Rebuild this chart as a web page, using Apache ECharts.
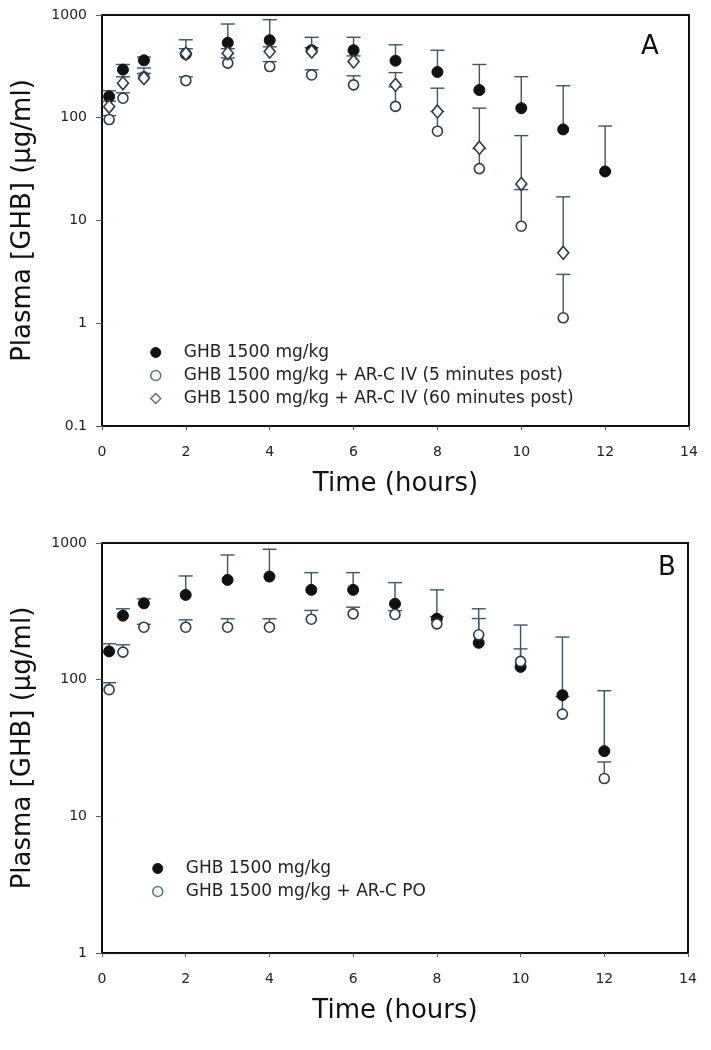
<!DOCTYPE html>
<html>
<head>
<meta charset="utf-8">
<script src="https://cdn.jsdelivr.net/npm/echarts@6/dist/echarts.min.js"></script>
<style>
html,body{margin:0;padding:0;background:#fff;}
#chart{width:711px;height:1050px;}
</style>
</head>
<body>
<div id="chart"></div>
<script>
// ---------- data ----------
const timesCtrl = [0.17, 0.5, 1, 2, 3, 4, 5, 6, 7, 8, 9, 10, 11, 12];
const ghb       = [161, 294, 362, 417, 537, 568, 454, 454, 359, 279, 186, 124, 77, 30];
const ghbUpper  = [183, 330, 390, 574, 817, 900, 607, 607, 513, 454, 330, 251, 205, 83];

const timesIV   = [0.17, 0.5, 1, 2, 3, 4, 5, 6, 7, 8, 9, 10, 11];
const iv5       = [96, 155, 250, 230, 340, 315, 261, 209, 129, 74, 32, 8.8, 1.13];
const iv5Upper  = [105, 175, 270, 250, 382, 352, 293, 256, 200, 115, 50, 20, 2.99];
const iv60      = [128, 217, 243, 420, 425, 441, 440, 352, 209, 115, 51, 22.7, 4.85];
const iv60Upper = [145, 250, 305, 470, 470, 490, 480, 400, 275, 194, 124, 67, 17];

const timesPO   = [0.17, 0.5, 1, 2, 3, 4, 5, 6, 7, 8, 9, 10, 11, 12];
const po        = [84.5, 159, 242, 242, 242, 242, 277, 303, 300, 256, 213, 136, 56, 18.9];
const poUpper   = [95, 180, 254, 274, 279, 279, 321, 339, 320, 290, 280, 168, 75, 25];

const nameCtrl = 'GHB 1500 mg/kg';
const name5 = 'GHB 1500 mg/kg + AR-C IV (5 minutes post)';
const name60 = 'GHB 1500 mg/kg + AR-C IV (60 minutes post)';
const namePO = 'GHB 1500 mg/kg + AR-C PO';
const yTitle = 'Plasma [GHB] (\u00b5g/ml)';
const xTitle = 'Time (hours)';

// ---------- helpers ----------
const FONT = 'DejaVu Sans';
const INK = '#111111';
const OPEN = '#2c3c48';
const BAR = '#3d5566';

function pts(t, v) { return t.map((x, i) => [x, v[i]]); }
function errPts(t, v, u) { return t.map((x, i) => [x, v[i], u[i]]); }

function errRender(params, api) {
  const x = api.value(0), y = api.value(1), hi = api.value(2);
  const p0 = api.coord([x, y]);
  const p1 = api.coord([x, hi]);
  const w = 7;
  const st = { stroke: BAR, lineWidth: 1.4 };
  return {
    type: 'group',
    children: [
      { type: 'line', shape: { x1: p0[0], y1: p0[1], x2: p1[0], y2: p1[1] }, style: st },
      { type: 'line', shape: { x1: p1[0] - w, y1: p1[1], x2: p1[0] + w, y2: p1[1] }, style: st }
    ]
  };
}

function errSeries(idx, t, v, u, name) {
  return {
    type: 'custom', name: name, xAxisIndex: idx, yAxisIndex: idx,
    renderItem: errRender, data: errPts(t, v, u), z: 2, silent: true,
    encode: { x: 0, y: [1, 2] }
  };
}

function xAxis(idx) {
  return {
    type: 'value', gridIndex: idx, min: 0, max: 14, interval: 2,
    name: xTitle, nameLocation: 'middle', nameGap: 45,
    nameTextStyle: { fontFamily: FONT, fontSize: 26, color: '#111' },
    axisLine: { show: true, lineStyle: { color: '#111', width: 2 } },
    axisTick: { show: true, inside: false, length: 4, lineStyle: { color: '#4a5f6e', width: 1 } },
    axisLabel: { margin: 19, fontFamily: FONT, fontSize: 14, color: '#222',
      formatter: v => String(v) },
    splitLine: { show: false }
  };
}
function yAxis(idx, min) {
  return {
    type: 'log', logBase: 10, gridIndex: idx, min: min, max: 1000,
    name: yTitle, nameLocation: 'middle', nameGap: 66, nameRotate: 90,
    nameTextStyle: { fontFamily: FONT, fontSize: 26, color: '#111' },
    axisLine: { show: true, lineStyle: { color: '#111', width: 2 } },
    axisTick: { show: true, inside: false, length: 6, lineStyle: { color: '#4a5f6e', width: 1 } },
    axisLabel: { margin: 15, fontFamily: FONT, fontSize: 14, color: '#222',
      formatter: v => String(+(+v).toPrecision(6)) },
    splitLine: { show: false }
  };
}

const filledStyle = { color: INK, borderColor: INK, borderWidth: 1, opacity: 1 };
const openStyle = { color: '#fff', borderColor: OPEN, borderWidth: 1.6, opacity: 1 };
const legFilled = { color: INK, borderColor: INK, borderWidth: 1, opacity: 1 };
const legOpen = { color: '#fff', borderColor: '#5a7384', borderWidth: 1.5, opacity: 1 };

const legText = { fontFamily: FONT, fontSize: 17, color: '#222', padding: [0, 0, 0, 18] };

const chart = echarts.init(document.getElementById('chart'), null, { renderer: 'canvas' });
chart.setOption({
  backgroundColor: '#fff',
  animation: false,
  grid: [
    { left: 102, top: 15, width: 587, height: 411, show: true, borderColor: '#111', borderWidth: 2, backgroundColor: 'transparent' },
    { left: 102, top: 543, width: 586, height: 410, show: true, borderColor: '#111', borderWidth: 2, backgroundColor: 'transparent' }
  ],
  xAxis: [xAxis(0), xAxis(1)],
  yAxis: [yAxis(0, 0.1), yAxis(1, 1)],
  legend: [
    {
      data: [
        { name: nameCtrl, itemStyle: legFilled },
        { name: name5, itemStyle: legOpen },
        { name: name60, itemStyle: legOpen }
      ],
      orient: 'vertical', left: 145, top: 339, itemGap: 6,
      itemWidth: 10, itemHeight: 10,
      textStyle: legText, selectedMode: false
    },
    {
      data: [
        { name: nameCtrl, itemStyle: legFilled },
        { name: namePO, itemStyle: legOpen }
      ],
      orient: 'vertical', left: 147, top: 855, itemGap: 6,
      itemWidth: 10, itemHeight: 10,
      textStyle: legText, selectedMode: false
    }
  ],
  graphic: [
    { type: 'text', left: 641, top: 34, style: { text: 'A', font: '26px "DejaVu Sans"', fill: '#111' } },
    { type: 'text', left: 658, top: 555, style: { text: 'B', font: '26px "DejaVu Sans"', fill: '#111' } }
  ],
  series: [
    // panel A
    errSeries(0, timesCtrl, ghb, ghbUpper, 'errA0'),
    errSeries(0, timesIV, iv5, iv5Upper, 'errA1'),
    errSeries(0, timesIV, iv60, iv60Upper, 'errA2'),
    { type: 'scatter', name: nameCtrl, xAxisIndex: 0, yAxisIndex: 0, data: pts(timesCtrl, ghb),
      symbol: 'circle', symbolSize: 11, itemStyle: filledStyle, z: 5 },
    { type: 'scatter', name: name5, xAxisIndex: 0, yAxisIndex: 0, data: pts(timesIV, iv5),
      symbol: 'circle', symbolSize: 10, itemStyle: openStyle, z: 6 },
    { type: 'scatter', name: name60, xAxisIndex: 0, yAxisIndex: 0, data: pts(timesIV, iv60),
      symbol: 'diamond', symbolSize: [11, 13], itemStyle: openStyle, z: 7 },
    // panel B
    errSeries(1, timesCtrl, ghb, ghbUpper, 'errB0'),
    errSeries(1, timesPO, po, poUpper, 'errB1'),
    { type: 'scatter', name: nameCtrl, xAxisIndex: 1, yAxisIndex: 1, data: pts(timesCtrl, ghb),
      symbol: 'circle', symbolSize: 11, itemStyle: filledStyle, z: 5 },
    { type: 'scatter', name: namePO, xAxisIndex: 1, yAxisIndex: 1, data: pts(timesPO, po),
      symbol: 'circle', symbolSize: 10, itemStyle: openStyle, z: 6 }
  ]
});
</script>
</body>
</html>
